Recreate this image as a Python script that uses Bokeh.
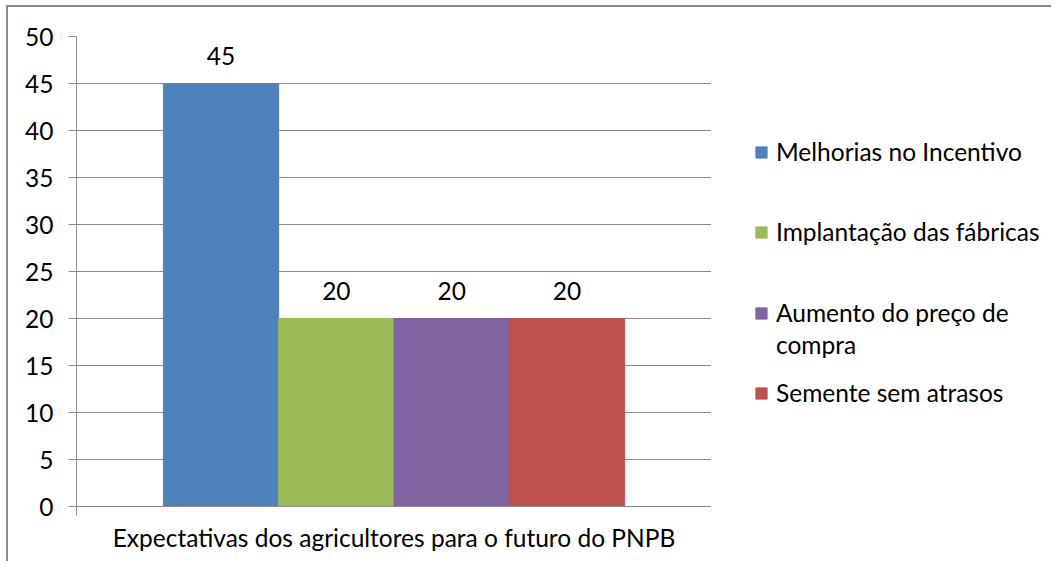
from bokeh.plotting import figure
from bokeh.layouts import row
from bokeh.models import Range1d, FixedTicker, Legend, LegendItem
from bokeh.embed import file_html
from bokeh.resources import INLINE
from bokeh.core.properties import value

# ---- data ----
category = "Expectativas dos agricultores para o futuro do PNPB"
series = ["Melhorias no Incentivo", "Implantação das fábricas",
          "Aumento do preço de\ncompra", "Semente sem atrasos"]
values = [45, 20, 20, 20]
colors = ["#4F81BD", "#9BBB59", "#8064A2", "#C0504D"]
y_ticks = [0, 5, 10, 15, 20, 25, 30, 35, 40, 45, 50]

FONT = "Lato"
FS = "24.5px"
GRID = "#8c8c8c"
BAR_W = 0.1816

n = len(values)
xs = [0.5 + (i - (n - 1) / 2) * BAR_W for i in range(n)]

p = figure(frame_width=635, frame_height=470, x_range=Range1d(0, 1), y_range=Range1d(0, 50),
           output_backend="svg", toolbar_location=None,
           min_border_left=68, min_border_right=0, min_border_top=29, min_border_bottom=55)
p.outline_line_color = None
p.background_fill_color = "white"

renderers = []
for i in range(n):
    r = p.vbar(x=[xs[i]], top=[values[i]], width=BAR_W, fill_color=colors[i], line_color=colors[i])
    renderers.append(r)

p.text(x=xs, y=values, text=[str(v) for v in values], text_align="center",
       text_baseline="alphabetic", y_offset=-28, text_font=value(FONT),
       text_font_size=FS, text_color="black")

# y axis
p.yaxis.ticker = FixedTicker(ticks=y_ticks)
p.yaxis.major_tick_in = 0
p.yaxis.major_tick_out = 8
p.yaxis.minor_tick_out = 0
p.yaxis.axis_line_color = GRID
p.yaxis.major_tick_line_color = GRID
p.yaxis.major_label_standoff = 15
p.yaxis.major_label_text_font = FONT
p.yaxis.major_label_text_font_size = FS
p.yaxis.major_label_text_color = "black"

# x axis
p.xaxis.ticker = FixedTicker(ticks=[0.5], minor_ticks=[0, 1])
p.xaxis.major_tick_in = 0
p.xaxis.major_tick_out = 0
p.xaxis.minor_tick_in = 0
p.xaxis.minor_tick_out = 9
p.xaxis.minor_tick_line_color = GRID
p.xaxis.axis_line_color = GRID
p.xaxis.major_label_overrides = {0.5: category}
p.xaxis.major_label_standoff = 7
p.xaxis.major_label_text_font = FONT
p.xaxis.major_label_text_font_size = FS
p.xaxis.major_label_text_color = "black"

p.xgrid.visible = False
p.ygrid.ticker = FixedTicker(ticks=y_ticks)
p.ygrid.grid_line_color = GRID

# ---- legend panel (second figure to the right of the plot area) ----
p2 = figure(frame_width=340, frame_height=554, output_backend="svg", toolbar_location=None,
            min_border=0, x_range=Range1d(0, 1), y_range=Range1d(0, 1))
p2.axis.visible = False
p2.grid.visible = False
p2.outline_line_color = None
p2.background_fill_color = "white"

# hidden copies of the series, used only to draw the legend swatches
swatches = [p2.vbar(x=[xs[i]], top=[values[i]], width=BAR_W, fill_color=colors[i],
                    line_color=colors[i], visible=False)
            for i in range(n)]

legend_rows = []  # (label, renderers)
for i in range(n):
    lines = series[i].split("\n")
    legend_rows.append((lines[0], [swatches[i]]))
    for extra in lines[1:]:
        legend_rows.append((extra, []))
legend_y = [395, 315, 234, 202, 154]
for (lab, rs), ly in zip(legend_rows, legend_y):
    lg = Legend(items=[LegendItem(label=lab, renderers=rs)],
                location=(43, ly), border_line_color=None, background_fill_alpha=0,
                padding=0, margin=0, glyph_width=14, glyph_height=14, label_standoff=8,
                label_text_font=FONT, label_text_font_size=FS, label_text_color="black")
    p2.add_layout(lg)

layout = row(p, p2)
layout.styles = {"border-left": "2px solid #8c8c8c", "border-top": "2px solid #8c8c8c",
                 "margin-left": "6px", "margin-top": "5px"}

open("out.html", "w").write(file_html(layout, INLINE))
